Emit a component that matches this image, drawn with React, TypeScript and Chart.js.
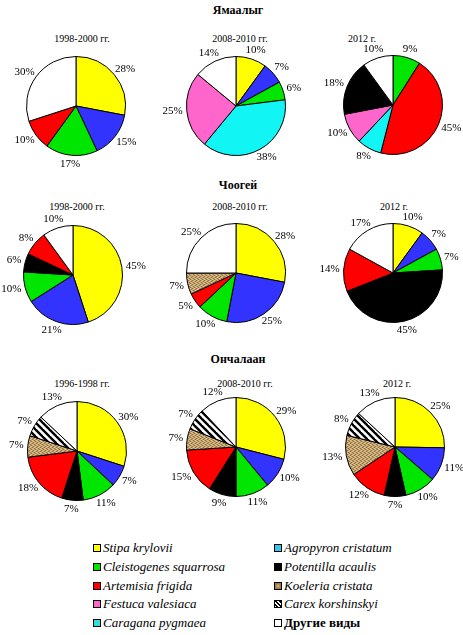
import { useEffect, useRef } from 'react';
import Chart from 'chart.js/auto';

// species keys, names and colours
const speciesNames = {
  stipa: 'Stipa krylovii',
  agropyron: 'Agropyron cristatum',
  cleistogenes: 'Cleistogenes squarrosa',
  potentilla: 'Potentilla acaulis',
  artemisia: 'Artemisia frigida',
  koeleria: 'Koeleria cristata',
  festuca: 'Festuca valesiaca',
  carex: 'Carex korshinskyi',
  caragana: 'Caragana pygmaea',
  other: 'Другие виды',
};
const pieColors = {
  stipa: '#ffff00',
  agropyron: '#3333ff',
  cleistogenes: '#00e600',
  potentilla: '#000000',
  artemisia: '#ff0000',
  festuca: '#ff66cc',
  caragana: '#11f5f5',
  other: '#ffffff',
};
const legendColors = { ...pieColors, agropyron: '#33c4f0', caragana: '#33dddd' };

// legend layout: left column, right column
const legendLeft = ['stipa', 'cleistogenes', 'artemisia', 'festuca', 'caragana'];
const legendRight = ['agropyron', 'potentilla', 'koeleria', 'carex', 'other'];

// site titles and period subtitles
const siteTitles = ['Ямаалыг', 'Чоогей', 'Ончалаан'];
const periods = [
  ['1998-2000 гг.', '2008-2010 гг.', '2012 г.'],
  ['1998-2000 гг.', '2008-2010 гг.', '2012 г.'],
  ['1996-1998 гг.', '2008-2010 гг.', '2012 г.'],
];

// Ямаалыг
const yam1Species = ['stipa', 'agropyron', 'cleistogenes', 'artemisia', 'other'];
const yam1Values = [28, 15, 17, 10, 30];
const yam2Species = ['stipa', 'agropyron', 'cleistogenes', 'caragana', 'festuca', 'other'];
const yam2Values = [10, 7, 6, 38, 25, 14];
const yam3Species = ['cleistogenes', 'artemisia', 'caragana', 'festuca', 'potentilla', 'other'];
const yam3Values = [9, 45, 8, 10, 18, 10];

// Чоогей
const cho1Species = ['stipa', 'agropyron', 'cleistogenes', 'potentilla', 'artemisia', 'other'];
const cho1Values = [45, 21, 10, 6, 8, 10];
const cho2Species = ['stipa', 'agropyron', 'cleistogenes', 'artemisia', 'koeleria', 'other'];
const cho2Values = [28, 25, 10, 5, 7, 25];
const cho3Species = ['stipa', 'agropyron', 'cleistogenes', 'potentilla', 'artemisia', 'other'];
const cho3Values = [10, 7, 7, 45, 14, 17];

// Ончалаан
const onchSpecies = ['stipa', 'agropyron', 'cleistogenes', 'potentilla', 'artemisia', 'koeleria', 'carex', 'other'];
const onch1Values = [30, 7, 11, 7, 18, 7, 7, 13];
const onch2Values = [29, 10, 11, 9, 15, 7, 7, 12];
const onch3Values = [25, 11, 10, 7, 12, 13, 8, 13];

const pies = [
  [[yam1Species, yam1Values], [yam2Species, yam2Values], [yam3Species, yam3Values]],
  [[cho1Species, cho1Values], [cho2Species, cho2Values], [cho3Species, cho3Values]],
  [[onchSpecies, onch1Values], [onchSpecies, onch2Values], [onchSpecies, onch3Values]],
];

const SERIF = "'Liberation Serif', 'DejaVu Serif', serif";

let patternCache = null;
function getPatterns() {
  if (patternCache) return patternCache;
  // brownish woven texture for Koeleria
  const tile = document.createElement('canvas');
  tile.width = 4;
  tile.height = 4;
  const t = tile.getContext('2d');
  t.fillStyle = '#c2a06c';
  t.fillRect(0, 0, 4, 4);
  t.fillStyle = '#917040';
  [[0, 0], [2, 1], [1, 2], [3, 3]].forEach(([x, y]) => t.fillRect(x, y, 1, 1));
  t.fillStyle = '#dcc596';
  [[2, 0], [0, 1], [3, 2], [1, 3]].forEach(([x, y]) => t.fillRect(x, y, 1, 1));

  // black diagonal stripes for Carex
  const hatch = document.createElement('canvas');
  hatch.width = 7;
  hatch.height = 7;
  const h = hatch.getContext('2d');
  h.fillStyle = '#fff';
  h.fillRect(0, 0, 7, 7);
  h.strokeStyle = '#000';
  h.lineWidth = 2.4;
  for (const k of [-7, 0, 7]) {
    h.beginPath();
    h.moveTo(k - 1, -1);
    h.lineTo(k + 8, 8);
    h.stroke();
  }
  const ctx = document.createElement('canvas').getContext('2d');
  patternCache = {
    koeleria: ctx.createPattern(tile, 'repeat'),
    carex: ctx.createPattern(hatch, 'repeat'),
  };
  return patternCache;
}

function fillFor(key) {
  if (key === 'koeleria' || key === 'carex') return getPatterns()[key];
  return pieColors[key];
}

const percentLabels = {
  id: 'percentLabels',
  afterDatasetsDraw(chart) {
    const ctx = chart.ctx;
    const meta = chart.getDatasetMeta(0);
    const values = chart.data.datasets[0].data;
    ctx.save();
    ctx.font = `11px ${SERIF}`;
    ctx.fillStyle = '#000';
    ctx.textAlign = 'center';
    ctx.textBaseline = 'middle';
    meta.data.forEach((arc, i) => {
      const { x, y, startAngle, endAngle, outerRadius } = arc.getProps(
        ['x', 'y', 'startAngle', 'endAngle', 'outerRadius'],
        true
      );
      const mid = (startAngle + endAngle) / 2;
      const cos = Math.cos(mid);
      const sin = Math.sin(mid);
      const text = values[i] + '%';
      const w = ctx.measureText(text).width;
      const ax = x + cos * (outerRadius + 3);
      const ay = y + sin * (outerRadius + 3);
      ctx.fillText(text, ax + cos * (w / 2 + 1), ay + sin * 6);
    });
    ctx.restore();
  },
};

const W = 180;
const H = 140;

const PieChart = ({ species, values, cx, cy, r }) => {
  const chartRef = useRef(null);

  useEffect(() => {
    const padX = W / 2 - r;
    const padY = H / 2 - r;
    const chart = new Chart(chartRef.current, {
      type: 'pie',
      data: {
        labels: species.map((k) => speciesNames[k]),
        datasets: [
          {
            data: values,
            backgroundColor: species.map(fillFor),
            borderColor: '#000',
            borderWidth: 1,
          },
        ],
      },
      options: {
        responsive: false,
        animation: false,
        layout: { padding: { left: padX, right: padX, top: padY, bottom: padY } },
        plugins: {
          legend: { display: false },
          tooltip: { enabled: false },
        },
      },
      plugins: [percentLabels],
    });

    return () => {
      chart.destroy();
    };
  }, [species, values, r]);

  return (
    <canvas
      ref={chartRef}
      width={W}
      height={H}
      style={{ position: 'absolute', left: cx - W / 2, top: cy - H / 2, width: W, height: H }}
    ></canvas>
  );
};

// pie centres per row / column
const centres = [
  [[76, 106], [236, 106], [393, 105]],
  [[73, 275], [236, 273], [393, 273]],
  [[77, 451], [236, 447], [395, 447]],
];
const titleY = [10, 185, 359];
const subtitleY = [38, 206, 383];
const subtitleX = [
  [82, 240, 362],
  [77, 240, 394],
  [82, 245, 397],
];

const swatchStyle = (key) => {
  const base = { position: 'absolute', width: 6, height: 6, border: '1px solid #000' };
  if (key === 'koeleria') return { ...base, background: '#c9a570', boxShadow: 'inset 0 0 0 1.5px #9c7a48' };
  if (key === 'carex')
    return { ...base, background: 'repeating-linear-gradient(45deg, #fff 0 1.2px, #000 1.2px 2.6px)' };
  return { ...base, background: legendColors[key] };
};

const LegendItem = ({ k, x, y }) => (
  <>
    <div style={{ ...swatchStyle(k), left: x, top: y - 4 }}></div>
    <div
      style={{
        position: 'absolute',
        left: x + 10,
        top: y - 8,
        fontFamily: SERIF,
        fontSize: 13,
        lineHeight: '16px',
        fontStyle: k === 'other' ? 'normal' : 'italic',
        fontWeight: k === 'other' ? 'bold' : 'normal',
        whiteSpace: 'nowrap',
      }}
    >
      {speciesNames[k]}
    </div>
  </>
);

const legendRowsY = [548, 567, 586, 604, 623];

const App = () => {
  return (
    <div
      style={{ position: 'absolute', left: 0, top: 0, width: 463, height: 635, background: '#fff', overflow: 'hidden' }}
    >
      {siteTitles.map((t, i) => (
        <div
          key={t}
          style={{
            position: 'absolute',
            left: 238,
            top: titleY[i],
            transform: 'translate(-50%, -50%)',
            fontFamily: SERIF,
            fontWeight: 'bold',
            fontSize: 12,
            whiteSpace: 'nowrap',
          }}
        >
          {t}
        </div>
      ))}
      {periods.map((row, i) =>
        row.map((p, j) => (
          <div
            key={i + '-' + j}
            style={{
              position: 'absolute',
              left: subtitleX[i][j],
              top: subtitleY[i],
              transform: 'translate(-50%, -50%)',
              fontFamily: SERIF,
              fontSize: 10,
              whiteSpace: 'nowrap',
            }}
          >
            {p}
          </div>
        ))
      )}
      {pies.map((row, i) =>
        row.map(([species, values], j) => (
          <PieChart
            key={i + '-' + j}
            species={species}
            values={values}
            cx={centres[i][j][0]}
            cy={centres[i][j][1]}
            r={50}
          />
        ))
      )}
      {legendLeft.map((k, i) => (
        <LegendItem key={k} k={k} x={93} y={legendRowsY[i]} />
      ))}
      {legendRight.map((k, i) => (
        <LegendItem key={k} k={k} x={274} y={legendRowsY[i]} />
      ))}
    </div>
  );
};

export default App;
